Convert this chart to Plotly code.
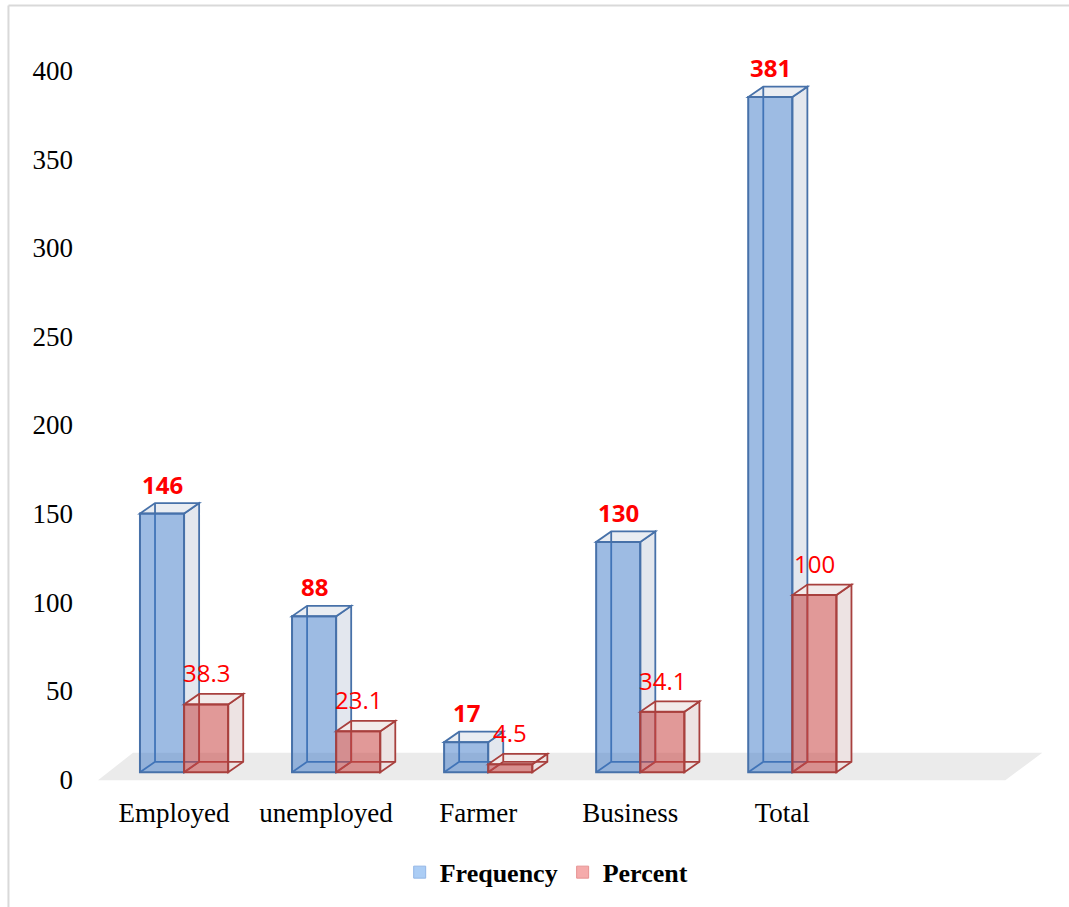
import plotly.graph_objects as go

# ---- data -------------------------------------------------------------
categories = ["Employed", "unemployed", "Farmer", "Business", "Total"]
frequency = [146, 88, 17, 130, 381]
percent = [38.3, 23.1, 4.5, 34.1, 100]
y_ticks = [0, 50, 100, 150, 200, 250, 300, 350, 400]

# ---- geometry of the pseudo-3D boxes (axis units) ----------------------
BAR_W = 0.29        # width of a front face
FACE_SHIFT = 0.066  # front faces sit slightly right of the floor's front edge
DEPTH_X = 0.099     # horizontal depth of a box
DEPTH_Y = 5.9       # vertical depth of a box
X_RANGE = [-0.5, 5.8]
Y_RANGE = [-10, 420]

W, H = 1069, 907
M_L = 98
PX_X = 152.0
PX_Y = 1.7725
plot_w = (X_RANGE[1] - X_RANGE[0]) * PX_X
plot_h = (Y_RANGE[1] - Y_RANGE[0]) * PX_Y
M_T = 772 - Y_RANGE[1] * PX_Y
M_B = H - M_T - plot_h
M_R = W - M_L - plot_w

BLUE = dict(front="rgba(60,120,200,0.5)", edge="#4771a9",
            side="#e3e7ee", top="#eaedf2")
RED = dict(front="rgba(200,70,68,0.55)", edge="#a8403e",
           side="#ede3e3", top="#f2ebeb")
FLOOR = "#ebebeb"


def poly(points):
    return "M" + "L".join(f"{x},{y}" for x, y in points) + "Z"


def box_shapes(x0, x1, v, col):
    """Top face, right face and hidden back edges for one box."""
    dx, dy = DEPTH_X, DEPTH_Y
    line = dict(color=col["edge"], width=1.8)
    out = [
        dict(type="path", layer="below", xref="x", yref="y",
             path=poly([(x1, 0), (x1 + dx, dy), (x1 + dx, v + dy), (x1, v)]),
             fillcolor=col["side"], line=line),
        dict(type="path", layer="below", xref="x", yref="y",
             path=poly([(x0, v), (x1, v), (x1 + dx, v + dy), (x0 + dx, v + dy)]),
             fillcolor=col["top"], line=line),
        dict(type="path", layer="below", xref="x", yref="y",
             path=f"M{x0},{0}L{x0 + dx},{dy}L{x0 + dx},{v + dy}"
                  f"M{x0 + dx},{dy}L{x1 + dx},{dy}",
             line=line),
    ]
    return out


positions = list(range(len(categories)))
shapes = []

# floor
shapes.append(dict(
    type="path", layer="below", xref="x", yref="y",
    path=poly([(-0.5, -4.5), (5.467, -4.5), (5.71, 11), (-0.27, 11)]),
    fillcolor=FLOOR, line=dict(width=0)))

blue_x0 = [p - BAR_W + FACE_SHIFT for p in positions]
red_x0 = [p + FACE_SHIFT for p in positions]
for i, p in enumerate(positions):
    shapes += box_shapes(blue_x0[i], blue_x0[i] + BAR_W, frequency[i], BLUE)
    shapes += box_shapes(red_x0[i], red_x0[i] + BAR_W, percent[i], RED)


def to_paper_x(px):
    return (px - M_L) / plot_w


def to_paper_y(py):
    return (H - M_B - py) / plot_h


# outer frame (top and left rules)
frame = dict(color="#d9d9d9", width=2)
shapes.append(dict(type="line", xref="paper", yref="paper", layer="above",
                   x0=to_paper_x(8.5), x1=to_paper_x(W + 2),
                   y0=to_paper_y(5), y1=to_paper_y(5), line=frame))
shapes.append(dict(type="line", xref="paper", yref="paper", layer="above",
                   x0=to_paper_x(8.5), x1=to_paper_x(8.5),
                   y0=to_paper_y(5), y1=to_paper_y(H + 2), line=frame))

fig = go.Figure()

fig.add_trace(go.Bar(
    x=positions, y=frequency, base=0, width=BAR_W, offset=-BAR_W + FACE_SHIFT,
    marker=dict(color=BLUE["front"], line=dict(color=BLUE["edge"], width=2)),
    showlegend=False, hoverinfo="skip"))
fig.add_trace(go.Bar(
    x=positions, y=percent, base=0, width=BAR_W, offset=FACE_SHIFT,
    marker=dict(color=RED["front"], line=dict(color=RED["edge"], width=2)),
    showlegend=False, hoverinfo="skip"))

# legend entries
fig.add_trace(go.Bar(x=[None], y=[None], name="Frequency",
                     marker=dict(color="#abcdf5", line=dict(color="#93b6e6", width=1))))
fig.add_trace(go.Bar(x=[None], y=[None], name="Percent",
                     marker=dict(color="#f5abab", line=dict(color="#e69393", width=1))))

# value labels
annotations = []
for i, p in enumerate(positions):
    annotations.append(dict(
        x=blue_x0[i] + BAR_W / 2, y=frequency[i], xref="x", yref="y",
        text=f"{frequency[i]}", showarrow=False, yanchor="bottom", yshift=11,
        font=dict(family="Open Sans", size=24, color="#ff0000", weight="bold")))
    annotations.append(dict(
        x=red_x0[i] + BAR_W / 2, y=percent[i], xref="x", yref="y",
        text=f"{percent[i]:g}", showarrow=False, yanchor="bottom", yshift=13,
        font=dict(family="Open Sans", size=24, color="#ff0000")))

axis_font = dict(family="Liberation Serif", size=27, color="#000000")

fig.update_layout(
    width=W, height=H, autosize=False,
    margin=dict(l=M_L, r=M_R, t=M_T, b=M_B, pad=0, autoexpand=False),
    paper_bgcolor="#ffffff", plot_bgcolor="#ffffff",
    barmode="overlay",
    shapes=shapes, annotations=annotations,
    xaxis=dict(range=X_RANGE, tickmode="array", tickvals=positions,
               ticktext=categories, showgrid=False, zeroline=False,
               showline=False, ticks="", tickfont=axis_font,
               ticklabelstandoff=4, automargin=False, fixedrange=True),
    yaxis=dict(range=Y_RANGE, tickmode="array", tickvals=y_ticks,
               showgrid=False, zeroline=False, showline=False, ticks="",
               tickfont=axis_font, ticklabelstandoff=24, ticklabelshift=7,
               automargin=False, fixedrange=True),
    legend=dict(orientation="h", x=to_paper_x(546), y=to_paper_y(872),
                xanchor="center", yanchor="middle",
                font=dict(family="Liberation Serif", size=26, color="#000000",
                          weight="bold"),
                bgcolor="rgba(0,0,0,0)", itemclick=False, itemdoubleclick=False),
)

fig.write_html("out.html")
